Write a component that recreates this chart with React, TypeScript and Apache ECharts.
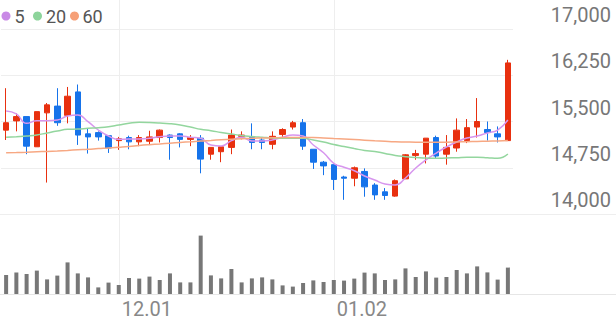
import React, { useEffect, useRef } from "react";
import * as echarts from "echarts";

const categories = [
  "11.16", "11.17", "11.18", "11.21", "11.22", "11.23", "11.24", "11.25", "11.28", "11.29", "11.30",
  "12.01", "12.02", "12.05", "12.06", "12.07", "12.08", "12.09", "12.12", "12.13", "12.14", "12.15",
  "12.16", "12.19", "12.20", "12.21", "12.22", "12.23", "12.26", "12.27", "12.28", "12.29",
  "01.02", "01.03", "01.04", "01.05", "01.06", "01.09", "01.10", "01.11", "01.12", "01.13",
  "01.16", "01.17", "01.18", "01.19", "01.20", "01.25", "01.26", "01.27",
];
const shownLabels = ["12.01", "01.02"];

const opens = [15360, 15510, 15580, 15090, 15640, 15750, 15600, 15980, 15300, 15320, 15270, 15190, 15240, 15170, 15180, 15240, 15280, 15300, 15210, 15230, 14970, 15010, 15080, 15260, 15240, 15200, 15130, 15290, 15410, 15480, 15050, 14840, 14800, 14600, 14580, 14690, 14470, 14360, 14290, 14570, 14950, 14970, 15240, 14970, 15070, 15190, 15410, 15370, 15300, 15190];
const closes = [15480, 15580, 15100, 15660, 15770, 15480, 15910, 15280, 15250, 15250, 15070, 15220, 15170, 15240, 15250, 15360, 15240, 15210, 15240, 14890, 15080, 15090, 15280, 15280, 15160, 15160, 15260, 15370, 15480, 15100, 14840, 14780, 14560, 14580, 14750, 14440, 14310, 14300, 14540, 14960, 14980, 15230, 14940, 15080, 15360, 15400, 15500, 15320, 15250, 16450];
const lows = [15200, 15340, 14970, 15090, 14510, 15430, 15470, 15120, 14980, 15190, 14990, 15040, 15050, 15100, 15120, 15160, 14880, 15080, 15100, 14660, 14880, 14840, 14970, 15210, 15050, 15050, 15050, 15230, 15370, 15040, 14730, 14630, 14390, 14230, 14450, 14280, 14230, 14230, 14280, 14570, 14880, 14820, 14900, 14800, 15010, 15150, 15240, 15190, 15160, 15190];
const highs = [16040, 15630, 15580, 15660, 15800, 16040, 16060, 16100, 15390, 15340, 15280, 15250, 15270, 15280, 15350, 15370, 15290, 15310, 15280, 15280, 15080, 15090, 15370, 15340, 15470, 15240, 15340, 15390, 15510, 15540, 15050, 14860, 14800, 14620, 14770, 14740, 14500, 14420, 14560, 14970, 15040, 15230, 15270, 15280, 15550, 15540, 15880, 15500, 15420, 16500];

const ma5 = [15670, 15622, 15470, 15513, 15513, 15524, 15589, 15605, 15497, 15362, 15265, 15211, 15216, 15216, 15227, 15254, 15265, 15265, 15244, 15227, 15119, 15103, 15189, 15244, 15184, 15184, 15200, 15244, 15281, 15265, 15119, 14994, 14822, 14757, 14702, 14616, 14551, 14487, 14470, 14584, 14746, 14876, 14989, 15087, 15168, 15232, 15265, 15314, 15362, 15524];
const ma20 = [15244, 15254, 15265, 15281, 15314, 15346, 15373, 15378, 15390, 15400, 15416, 15443, 15471, 15487, 15484, 15476, 15464, 15443, 15411, 15373, 15351, 15322, 15297, 15273, 15257, 15244, 15232, 15227, 15227, 15227, 15200, 15168, 15127, 15095, 15062, 15030, 15014, 14981, 14949, 14930, 14916, 14908, 14903, 14908, 14913, 14920, 14920, 14913, 14903, 14973];
const ma60 = [14994, 14997, 15002, 15009, 15015, 15022, 15031, 15041, 15049, 15061, 15070, 15082, 15095, 15111, 15124, 15135, 15148, 15161, 15172, 15184, 15193, 15203, 15211, 15219, 15227, 15232, 15236, 15239, 15242, 15242, 15239, 15232, 15224, 15216, 15207, 15197, 15187, 15179, 15172, 15168, 15164, 15163, 15163, 15164, 15168, 15172, 15176, 15181, 15185, 15192];

const volumes = [95, 108, 100, 117, 73, 92, 158, 103, 83, 33, 57, 45, 80, 77, 87, 70, 103, 58, 58, 292, 93, 78, 125, 58, 78, 83, 73, 43, 37, 55, 68, 60, 70, 67, 77, 107, 103, 70, 73, 128, 85, 113, 82, 85, 120, 103, 138, 108, 72, 132];

const priceTicks = { min: 14000, max: 17000, interval: 750 };
const maNames = ["5", "20", "60"];
const maColors = ["#d796ee", "#93d69e", "#f7a883"];
const maDotColors = ["#c98ae6", "#8dd49b", "#f6a078"];

const RED = "#e8300f";
const BLUE = "#1673ea";
const GRID_COLOR = "#eeeeee";
const FONT = "Roboto";

export default function App() {
  const ref = useRef<HTMLDivElement>(null);
  useEffect(() => {
    document.body.style.margin = "0";
    const chart = echarts.init(ref.current!, null, { renderer: "svg" });
    const candleData = categories.map((_, i) => [opens[i], closes[i], lows[i], highs[i]]);
    const maSeries = [ma5, ma20, ma60].map((d, k) => ({
      name: maNames[k],
      type: "line",
      data: d,
      smooth: true,
      symbol: "none",
      lineStyle: { color: maColors[k], width: 1.5 },
      itemStyle: { color: maDotColors[k] },
    }));
    chart.setOption({
      animation: false,
      textStyle: { fontFamily: FONT },
      grid: [
        { left: 1, right: 103, top: 29, height: 185 },
        { left: 1, right: 103, top: 224, bottom: 27 },
      ],
      xAxis: [
        {
          type: "category",
          data: categories,
          gridIndex: 0,
          boundaryGap: true,
          axisLine: { show: false },
          axisTick: { show: false },
          axisLabel: { show: false },
          splitLine: { show: false },
        },
        {
          type: "category",
          data: categories,
          gridIndex: 1,
          boundaryGap: true,
          axisLine: { show: false },
          axisTick: { show: false },
          axisLabel: {
            interval: (_i: number, v: string) => shownLabels.includes(v),
            align: "left",
            margin: 5,
            padding: [0, 0, 0, 3],
            fontSize: 20,
            color: "#888",
            fontFamily: FONT,
          },
          splitLine: { show: false },
        },
      ],
      yAxis: [
        {
          type: "value",
          gridIndex: 0,
          position: "right",
          min: priceTicks.min,
          max: priceTicks.max,
          interval: priceTicks.interval,
          axisLine: { show: false },
          axisTick: { show: false },
          axisLabel: {
            margin: 98,
            align: "right",
            verticalAlign: "bottom",
            padding: [0, 0, 4, 0],
            fontSize: 20,
            color: "#777",
            fontFamily: FONT,
            formatter: (v: number) => v.toLocaleString("en-US"),
          },
          splitLine: { lineStyle: { color: GRID_COLOR, width: 1 } },
        },
        {
          type: "value",
          gridIndex: 1,
          min: 0,
          max: 350,
          show: false,
        },
      ],
      series: [
        {
          type: "candlestick",
          xAxisIndex: 0,
          yAxisIndex: 0,
          data: candleData,
          barWidth: 6,
          itemStyle: { color: RED, color0: BLUE, borderColor: RED, borderColor0: BLUE, borderWidth: 1 },
        },
        ...maSeries,
        {
          type: "bar",
          xAxisIndex: 1,
          yAxisIndex: 1,
          data: volumes,
          barWidth: 4,
          itemStyle: { color: "#777777" },
        },
      ],
    });
    const els: any[] = [];
    shownLabels.forEach((c) => {
      const x = Math.round(chart.convertToPixel({ xAxisIndex: 0 }, c) as number) + 0.5;
      els.push({
        type: "line",
        z: -1,
        shape: { x1: x, y1: 0, x2: x, y2: 294 },
        style: { stroke: GRID_COLOR, lineWidth: 1 },
      });
    });
    const sepY = Math.round(chart.convertToPixel({ yAxisIndex: 0 }, priceTicks.min) as number) + 0.5;
    els.push({
      type: "line",
      shape: { x1: 0, y1: sepY, x2: 616, y2: sepY },
      style: { stroke: GRID_COLOR, lineWidth: 1 },
    });
    const baseY = Math.round(chart.convertToPixel({ yAxisIndex: 1 }, 0) as number) + 0.5;
    els.push({
      type: "line",
      shape: { x1: 0, y1: baseY, x2: 616, y2: baseY },
      style: { stroke: "#e6e6e6", lineWidth: 1 },
    });
    // legend
    const dotX = [6, 37.5, 74.5];
    const textX = [14.5, 46, 82.5];
    maNames.forEach((n, k) => {
      els.push({
        type: "circle",
        shape: { cx: dotX[k], cy: 16, r: 4.5 },
        style: { fill: maDotColors[k] },
      });
      els.push({
        type: "text",
        x: textX[k],
        y: 16.5,
        style: {
          text: n,
          fontSize: 18,
          fontFamily: FONT,
          fill: "#555",
          verticalAlign: "middle",
          align: "left",
        },
      });
    });
    chart.setOption({ graphic: els });
    return () => chart.dispose();
  }, []);
  return <div ref={ref} style={{ width: 616, height: 321 }} />;
}
